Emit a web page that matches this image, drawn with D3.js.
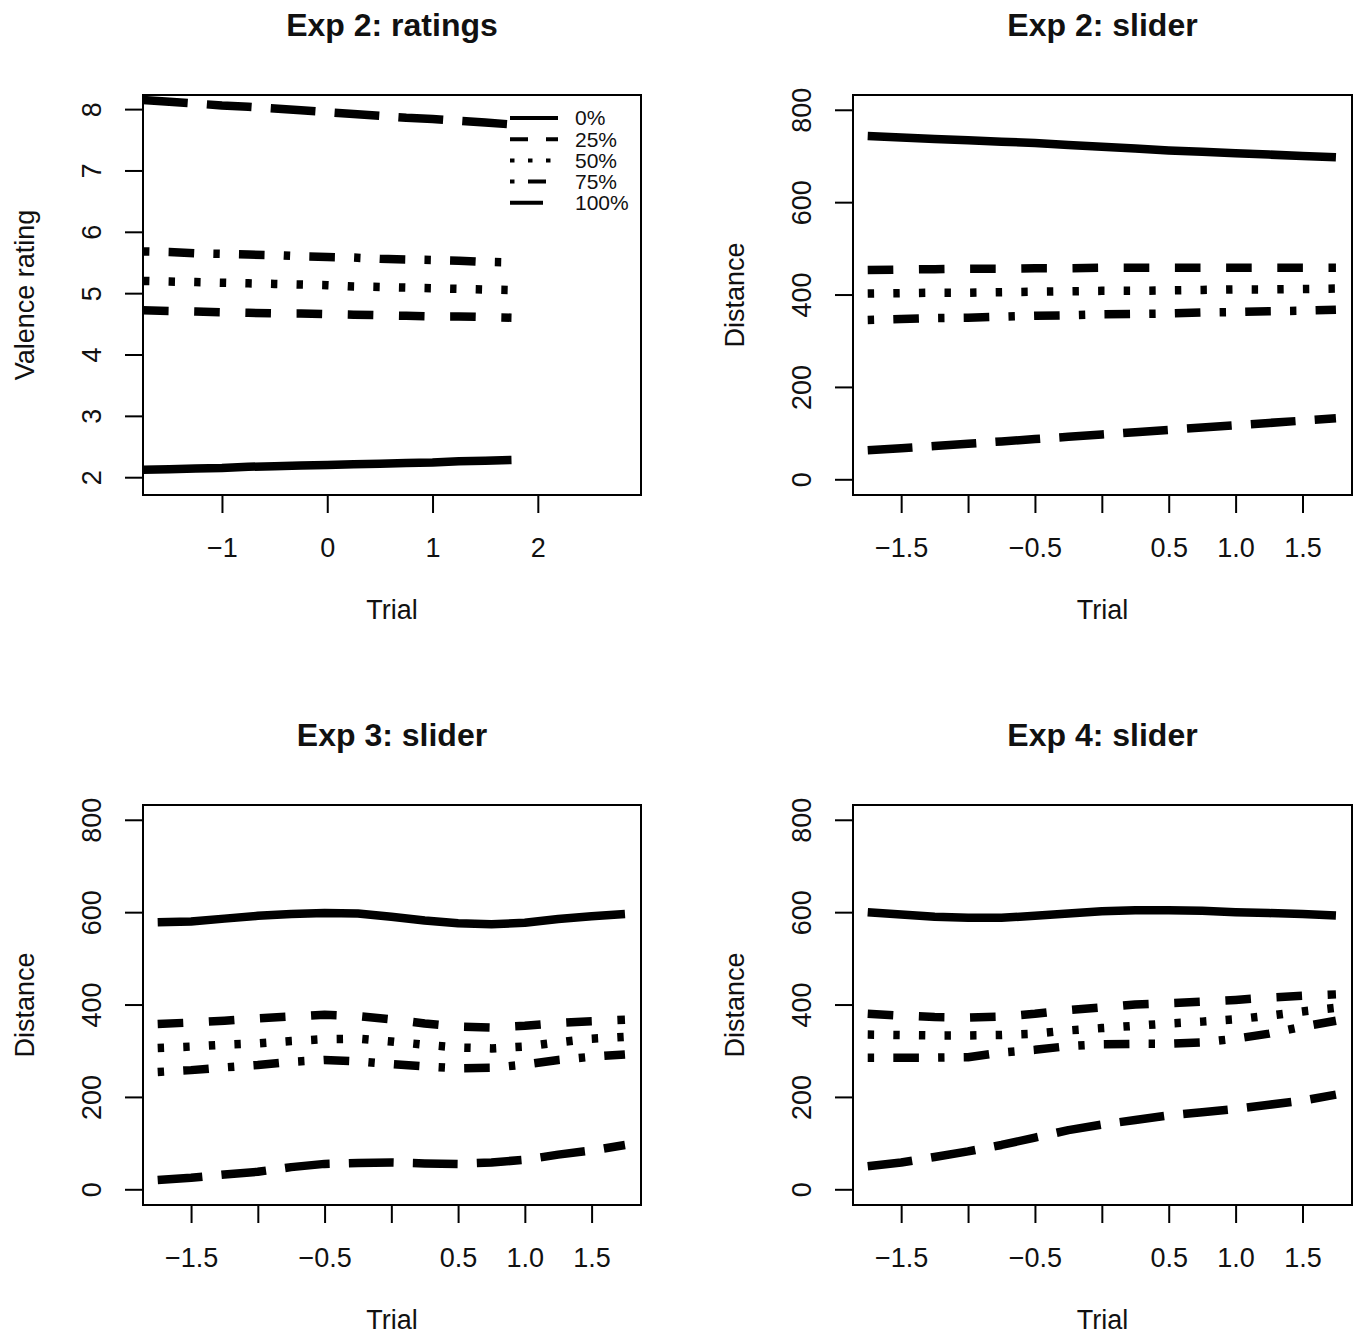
<!DOCTYPE html>
<html>
<head>
<meta charset="utf-8">
<script src="https://cdn.jsdelivr.net/npm/d3@7"></script>
<style>
  body { margin: 0; background: #fff; }
  svg text { font-family: "Liberation Sans", Arial, Helvetica, sans-serif; fill: #111; }
</style>
</head>
<body>
<svg id="chart" width="1358" height="1334"></svg>
<script>
'use strict';

// trial (centred) at which each fitted value was read
const trial = [-1.75, -1.5, -1.25, -1, -0.75, -0.5, -0.25, 0, 0.25, 0.5, 0.75, 1, 1.25, 1.5, 1.75];
const conditions = ['0%', '25%', '50%', '75%', '100%'];

// one row per condition, same order as `conditions`
const exp2Ratings = [
  [2.12, 2.13, 2.14, 2.15, 2.17, 2.18, 2.19, 2.20, 2.21, 2.22, 2.23, 2.24, 2.26, 2.27, 2.28],
  [4.72, 4.71, 4.70, 4.69, 4.68, 4.67, 4.67, 4.66, 4.65, 4.64, 4.63, 4.62, 4.62, 4.61, 4.60],
  [5.20, 5.19, 5.18, 5.17, 5.16, 5.15, 5.14, 5.13, 5.11, 5.10, 5.09, 5.08, 5.07, 5.06, 5.05],
  [5.68, 5.67, 5.65, 5.64, 5.63, 5.62, 5.60, 5.59, 5.58, 5.56, 5.55, 5.54, 5.53, 5.51, 5.50],
  [8.15, 8.12, 8.09, 8.06, 8.04, 8.01, 7.98, 7.95, 7.92, 7.89, 7.86, 7.84, 7.81, 7.78, 7.75]
];
const exp2Slider = [
  [743, 740, 737, 734, 731, 728, 724, 720, 716, 712, 709, 706, 703, 700, 697],
  [453, 454, 455, 456, 456, 457, 457, 458, 458, 458, 458, 458, 458, 458, 458],
  [402, 403, 404, 404, 405, 406, 407, 408, 408, 409, 410, 411, 411, 412, 413],
  [345, 347, 349, 350, 352, 354, 355, 357, 358, 359, 361, 362, 364, 365, 367],
  [63, 67, 72, 77, 82, 87, 92, 97, 102, 107, 112, 117, 122, 127, 132]
];
const exp3Slider = [
  [578, 580, 586, 592, 596, 598, 597, 590, 582, 576, 574, 577, 585, 591, 596],
  [358, 361, 365, 370, 374, 378, 375, 368, 359, 352, 350, 354, 360, 364, 367],
  [306, 309, 313, 316, 321, 325, 326, 320, 313, 307, 305, 309, 318, 326, 330],
  [254, 258, 264, 269, 276, 280, 277, 271, 266, 262, 263, 270, 280, 287, 292],
  [20, 25, 32, 38, 48, 55, 57, 58, 56, 55, 58, 64, 75, 84, 96]
];
const exp4Slider = [
  [600, 595, 590, 588, 588, 592, 597, 602, 604, 604, 603, 600, 598, 596, 593],
  [380, 376, 373, 372, 374, 380, 388, 394, 400, 403, 406, 410, 415, 419, 422],
  [335, 334, 333, 333, 334, 337, 344, 349, 354, 359, 363, 368, 376, 385, 393],
  [285, 285, 285, 286, 296, 302, 310, 314, 315, 315, 318, 326, 337, 352, 365],
  [50, 58, 70, 82, 96, 112, 128, 140, 150, 160, 167, 174, 183, 192, 205]
];

const ratingTicks = [2, 3, 4, 5, 6, 7, 8];
const distanceTicks = [0, 200, 400, 600, 800];
const ratingTrialTicks = [-1, 0, 1, 2];
const sliderTrialTicks = [-1.5, -1, -0.5, 0, 0.5, 1, 1.5];
const sliderTrialLabels = [-1.5, -0.5, 0.5, 1, 1.5];

// R-like line types, unit ~6.4px for the thick data lines
const dashData = [null, '25.6,25.6', '6.4,19.2', '6.4,19.2,25.6,19.2', '44.8,19.2'];
const dashLegend = [null, '18,18', '4.5,13.5', '4.5,13.5,18,13.5', '33,16'];

const fontSize = 27;
const tickLen = 18;

const panels = [
  {title: 'Exp 2: ratings', ylab: 'Valence rating', values: exp2Ratings,
   xDomain: [-1.75, 2.98], yDomain: [1.71, 8.23], yTicks: ratingTicks,
   xTicks: ratingTrialTicks, xLabels: ratingTrialTicks, fmt: d3.format('d'),
   left: 143, right: 641, top: 95, bottom: 495, legend: true},
  {title: 'Exp 2: slider', ylab: 'Distance', values: exp2Slider,
   xDomain: [-1.86, 1.87], yDomain: [-34, 832], yTicks: distanceTicks,
   xTicks: sliderTrialTicks, xLabels: sliderTrialLabels, fmt: d3.format('.1f'),
   left: 853, right: 1352, top: 95, bottom: 495},
  {title: 'Exp 3: slider', ylab: 'Distance', values: exp3Slider,
   xDomain: [-1.86, 1.87], yDomain: [-34, 832], yTicks: distanceTicks,
   xTicks: sliderTrialTicks, xLabels: sliderTrialLabels, fmt: d3.format('.1f'),
   left: 143, right: 641, top: 805, bottom: 1205},
  {title: 'Exp 4: slider', ylab: 'Distance', values: exp4Slider,
   xDomain: [-1.86, 1.87], yDomain: [-34, 832], yTicks: distanceTicks,
   xTicks: sliderTrialTicks, xLabels: sliderTrialLabels, fmt: d3.format('.1f'),
   left: 853, right: 1352, top: 805, bottom: 1205}
];

const svg = d3.select('#chart');

panels.forEach(p => {
  const g = svg.append('g');
  const x = d3.scaleLinear().domain(p.xDomain).range([p.left, p.right]);
  const y = d3.scaleLinear().domain(p.yDomain).range([p.bottom, p.top]);
  const cx = (p.left + p.right) / 2;
  const cy = (p.top + p.bottom) / 2;

  // data lines
  const line = d3.line().x((d, i) => x(trial[i])).y(d => y(d));
  p.values.forEach((vals, k) => {
    g.append('path')
      .attr('d', line(vals))
      .attr('fill', 'none')
      .attr('stroke', '#000')
      .attr('stroke-width', 8.5)
      .attr('stroke-linecap', 'butt')
      .attr('stroke-linejoin', 'round')
      .attr('stroke-dasharray', dashData[k]);
  });

  // box
  g.append('rect')
    .attr('x', p.left).attr('y', p.top)
    .attr('width', p.right - p.left).attr('height', p.bottom - p.top)
    .attr('fill', 'none').attr('stroke', '#000').attr('stroke-width', 2);

  // x axis
  const xAxis = d3.axisBottom(x).tickValues(p.xTicks).tickSize(tickLen)
    .tickFormat(d => p.xLabels.includes(d) ? p.fmt(d) : '');
  const gx = g.append('g').attr('transform', `translate(0,${p.bottom})`).call(xAxis);
  gx.select('.domain').remove();
  gx.selectAll('.tick line').attr('stroke', '#000').attr('stroke-width', 2);
  gx.selectAll('.tick text')
    .attr('font-size', fontSize).attr('font-family', null)
    .attr('y', null).attr('dy', null)
    .attr('transform', 'translate(0,62)');

  // y axis, labels parallel to the axis as in R
  const yAxis = d3.axisLeft(y).tickValues(p.yTicks).tickSize(tickLen).tickFormat(d3.format('d'));
  const gy = g.append('g').attr('transform', `translate(${p.left},0)`).call(yAxis);
  gy.select('.domain').remove();
  gy.selectAll('.tick line').attr('stroke', '#000').attr('stroke-width', 2);
  gy.selectAll('.tick text')
    .attr('font-size', fontSize).attr('font-family', null)
    .attr('x', null)
    .attr('text-anchor', 'middle')
    .attr('transform', 'translate(-51,0) rotate(-90)')
    .attr('dy', '0.35em');

  // titles and axis labels
  g.append('text')
    .attr('x', cx).attr('y', p.top - 59)
    .attr('text-anchor', 'middle')
    .attr('font-size', 32).attr('font-weight', 'bold')
    .text(p.title);
  g.append('text')
    .attr('x', cx).attr('y', p.bottom + 124)
    .attr('text-anchor', 'middle')
    .attr('font-size', fontSize)
    .text('Trial');
  g.append('text')
    .attr('transform', `translate(${p.left - 118},${cy}) rotate(-90)`)
    .attr('text-anchor', 'middle')
    .attr('dy', '0.35em')
    .attr('font-size', fontSize)
    .text(p.ylab);

  if (p.legend) {
    const lg = g.append('g');
    conditions.forEach((c, k) => {
      const ly = 118 + k * 21.2;
      lg.append('line')
        .attr('x1', 510).attr('x2', 558).attr('y1', ly).attr('y2', ly)
        .attr('stroke', '#000').attr('stroke-width', 4)
        .attr('stroke-dasharray', dashLegend[k]);
      lg.append('text')
        .attr('x', 575).attr('y', ly).attr('dy', '0.35em')
        .attr('font-size', 21)
        .text(c);
    });
  }
});
</script>
</body>
</html>
